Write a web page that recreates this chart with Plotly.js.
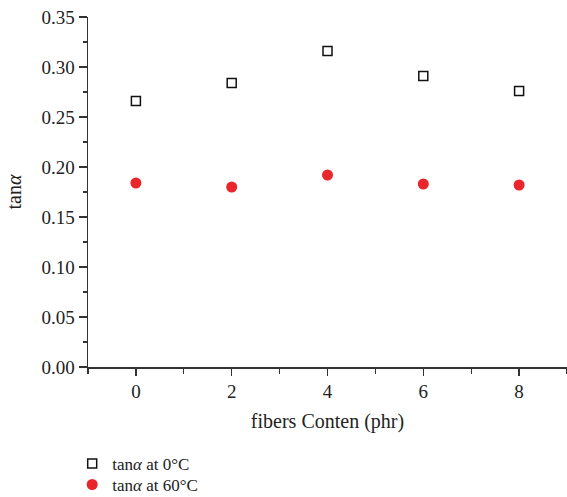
<!DOCTYPE html>
<html>
<head>
<meta charset="utf-8">
<script src="https://cdn.plot.ly/plotly-3.0.1.min.js"></script>
<style>html,body{margin:0;padding:0;background:#fff;}#chart{width:567px;height:497px;}</style>
</head>
<body>
<div id="chart"></div>
<script>
const fiberContent = [0, 2, 4, 6, 8];
const tan0C = [0.266, 0.284, 0.316, 0.291, 0.276];
const tan60C = [0.184, 0.180, 0.192, 0.183, 0.182];
const seriesNames = ["tan<i>α</i> at 0°C", "tan<i>α</i> at 60°C"];

const fontFam = "Liberation Serif, Times New Roman, serif";
const axisColor = "#333333";
const textColor = "#222222";

const traces = [
  {
    x: fiberContent, y: tan0C, name: seriesNames[0], type: "scatter", mode: "markers", legend: "legend",
    marker: {symbol: "square-open", size: 9, color: "#111111", line: {width: 1.5, color: "#111111"}}
  },
  {
    x: fiberContent, y: tan60C, name: seriesNames[1], type: "scatter", mode: "markers", legend: "legend2",
    marker: {symbol: "circle", size: 11, color: "#e8262b"}
  }
];

const legendBase = {xanchor: "left", yanchor: "middle", font: {size: 17, family: fontFam, color: textColor}, itemsizing: "trace", bgcolor: "rgba(0,0,0,0)"};

const layout = {
  width: 567, height: 497,
  margin: {l: 88, r: 0, t: 17, b: 130, autoexpand: false},
  paper_bgcolor: "#fff", plot_bgcolor: "#fff",
  font: {family: fontFam, size: 19, color: textColor},
  showlegend: true,
  legend: Object.assign({}, legendBase, {x: -0.033, y: -0.277}),
  legend2: Object.assign({}, legendBase, {x: -0.033, y: -0.337}),
  xaxis: {
    range: [-1, 9], tick0: 0, dtick: 2, ticks: "outside", ticklen: 7, tickwidth: 1.3, tickcolor: axisColor,
    showline: true, linecolor: axisColor, linewidth: 1.5, showgrid: false, zeroline: false,
    minor: {dtick: 1, ticks: "outside", ticklen: 5, tickwidth: 1.3, tickcolor: axisColor, showgrid: false},
    tickfont: {size: 19, family: fontFam, color: textColor},
    title: {text: "fibers Conten (phr)", font: {size: 20, family: fontFam, color: textColor}, standoff: 12}
  },
  yaxis: {
    range: [0, 0.35], tick0: 0, dtick: 0.05, tickformat: ".2f", ticks: "outside", ticklen: 8, tickwidth: 1.3, tickcolor: axisColor,
    showline: true, linecolor: axisColor, linewidth: 1.5, showgrid: false, zeroline: false,
    minor: {dtick: 0.025, ticks: "outside", ticklen: 4, tickwidth: 1.3, tickcolor: axisColor, showgrid: false},
    tickfont: {size: 19, family: fontFam, color: textColor},
    title: {text: "tan<i>α</i>", font: {size: 20, family: fontFam, color: textColor}, standoff: 14}
  }
};

Plotly.newPlot("chart", traces, layout, {displayModeBar: false, staticPlot: true});
</script>
</body>
</html>
